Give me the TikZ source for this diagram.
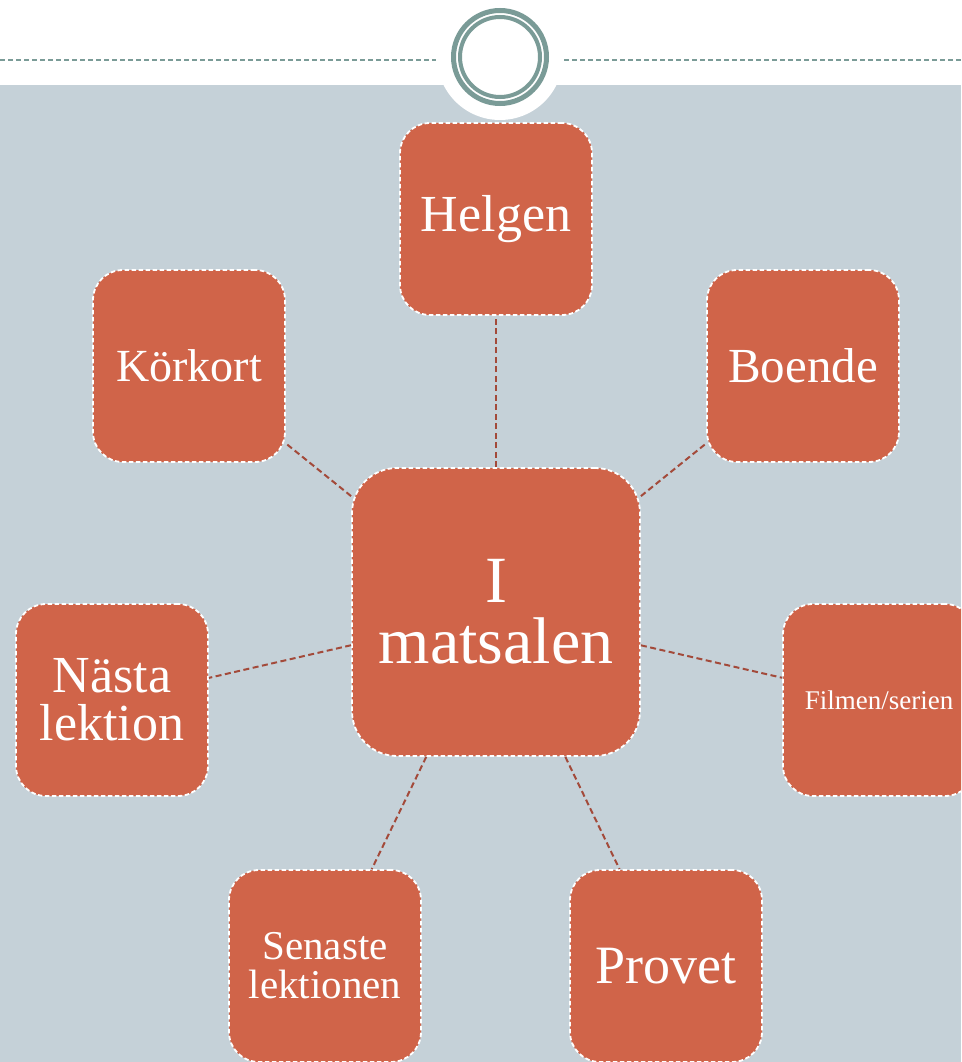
\documentclass[tikz,border=0pt]{standalone}
\usepackage{fontspec}
\setmainfont{Liberation Serif}
\definecolor{boxfill}{HTML}{D06449}
\definecolor{bggray}{HTML}{C5D1D8}
\definecolor{linkbrown}{HTML}{A34A3A}
\definecolor{ringteal}{HTML}{7A9B97}
\tikzset{
  topic/.style={draw=white, fill=boxfill, line width=1.8pt, dash pattern=on 4.5pt off 2.5pt,
    rounded corners=30pt, minimum width=192pt, minimum height=192pt, inner sep=0pt,
    text=white, align=center},
  hub/.style={topic, minimum width=288pt, minimum height=288pt, rounded corners=45pt},
  link/.style={draw=linkbrown, line width=2pt, dash pattern=on 6pt off 3.5pt},
  topline/.style={draw=ringteal, line width=2pt, dash pattern=on 5pt off 3pt},
  ring/.style={draw=ringteal}
}
\newcommand{\fs}[2]{\fontsize{#1}{#2}\selectfont}
\begin{document}
\begin{tikzpicture}[x=1pt,y=-1pt]
\clip (0,0) rectangle (961,1062);
\fill[white] (0,0) rectangle (961,1062);
\fill[bggray] (0,85) rectangle (961,1062);
\coordinate (lineL0) at (0,60);
\coordinate (lineL1) at (436,60);
\coordinate (lineR0) at (564,60);
\coordinate (lineR1) at (961,60);
\draw[topline] (lineL0) -- (lineL1);
\draw[topline] (lineR0) -- (lineR1);
\fill[white] (500,57) circle (63);
\draw[ring, line width=5pt] (500,57) circle (46.5);
\draw[ring, line width=4pt] (500,57) circle (40);

\node[hub, font=\fs{66}{61}] (hub) at (496,612) {I\\matsalen};
\node[topic, font=\fs{52}{52}] (helgen) at (496,219) {Helgen};
\node[topic, font=\fs{46}{46}] (korkort) at (189,366) {Körkort};
\node[topic, font=\fs{49}{49}] (boende) at (803,366) {Boende};
\node[topic, font=\fs{52}{48}] (nasta) at (112,700) {Nästa\\lektion};
\node[topic, font=\fs{27}{27}] (filmen) at (879,700) {Filmen/serien};
\node[topic, font=\fs{41}{39}] (senaste) at (325,966) {Senaste\\lektionen};
\node[topic, font=\fs{54}{54}] (provet) at (666,966) {Provet};

\foreach \t in {helgen,korkort,boende,nasta,filmen,senaste,provet}
  \draw[link] (hub) -- (\t);
\end{tikzpicture}
\end{document}
